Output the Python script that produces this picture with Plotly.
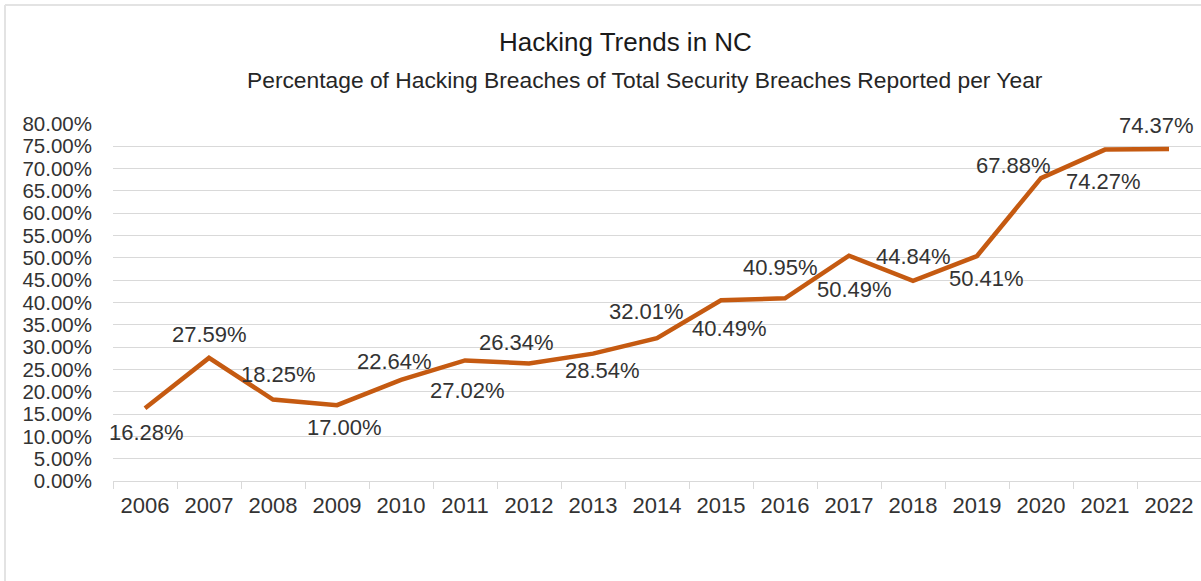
import plotly.graph_objects as go

years = ["2006", "2007", "2008", "2009", "2010", "2011", "2012", "2013", "2014",
         "2015", "2016", "2017", "2018", "2019", "2020", "2021", "2022"]
hacking_pct = [16.28, 27.59, 18.25, 17.00, 22.64, 27.02, 26.34, 28.54, 32.01,
               40.49, 40.95, 50.49, 44.84, 50.41, 67.88, 74.27, 74.37]
y_ticks = [0, 5, 10, 15, 20, 25, 30, 35, 40, 45, 50, 55, 60, 65, 70, 75, 80]

# label nudges (pixels, right / up) so labels sit clear of the line
label_dx = [1, 0, 5, 7, -7, 2, -13, 9, -11, 8, -5, 5, 0, 9, -28, -2, -13]
label_dy = [-24, 23, 25, -22, 18, -30, 21, -17, 27, -28, 31, -34, 24, -22, 13, -32, 24]

FONT = "Liberation Sans, Arial, sans-serif"
TEXT = "#333333"
GRID = "#d9d9d9"

W, H = 1201, 581
ML, MR, MT, MB = 113, 0, 124, 100
PW, PH = W - ML - MR, H - MT - MB


def px_x(px):
    return (px - ML) / PW


def px_y(py):
    return (H - MB - py) / PH


fig = go.Figure()
fig.add_trace(go.Scatter(
    x=years, y=hacking_pct, mode="lines",
    line=dict(color="#C55A11", width=4.5),
    hoverinfo="x+y",
))

annotations = []
for i, (v, dx, dy) in enumerate(zip(hacking_pct, label_dx, label_dy)):
    annotations.append(dict(
        x=i, y=v, xref="x", yref="y", text=f"{v:.2f}%", showarrow=False,
        xanchor="center", yanchor="middle",
        xshift=dx, yshift=dy, font=dict(family=FONT, size=22, color=TEXT),
    ))

annotations.append(dict(
    x=px_x(625), y=px_y(42), xref="paper", yref="paper",
    xanchor="center", yanchor="middle",
    text="Hacking Trends in NC", showarrow=False,
    font=dict(family=FONT, size=26, color="#1a1a1a"),
))
annotations.append(dict(
    x=px_x(645), y=px_y(80), xref="paper", yref="paper",
    xanchor="center", yanchor="middle",
    text="Percentage of Hacking Breaches of Total Security Breaches Reported per Year",
    showarrow=False, font=dict(family=FONT, size=22.8, color="#262626"),
))

shapes = [
    dict(type="line", xref="paper", yref="paper", x0=px_x(5), x1=px_x(5),
         y0=px_y(5), y1=px_y(H), line=dict(color="#e3e3e3", width=2)),
    dict(type="line", xref="paper", yref="paper", x0=px_x(5), x1=px_x(W),
         y0=px_y(5), y1=px_y(5), line=dict(color="#e3e3e3", width=2)),
]

fig.update_layout(
    width=W, height=H,
    margin=dict(l=ML, r=MR, t=MT, b=MB),
    paper_bgcolor="white", plot_bgcolor="white",
    showlegend=False,
    annotations=annotations,
    shapes=shapes,
    font=dict(family=FONT, color=TEXT),
)
fig.update_xaxes(
    type="category", range=[-0.5, 16.5],
    showline=True, linecolor=GRID, linewidth=1,
    ticks="outside", tickson="boundaries", ticklen=7, tickcolor=GRID,
    showgrid=False, tickfont=dict(family=FONT, size=22, color=TEXT),
    ticklabelstandoff=5,
)
fig.update_yaxes(
    range=[0, 80], tickvals=y_ticks,
    ticktext=[f"{t:.2f}%" for t in y_ticks],
    showgrid=True, gridcolor=GRID, gridwidth=1,
    zeroline=False, showline=False,
    tickfont=dict(family=FONT, size=20.5, color=TEXT),
    ticklabelstandoff=20,
)

fig.write_html("out.html")
